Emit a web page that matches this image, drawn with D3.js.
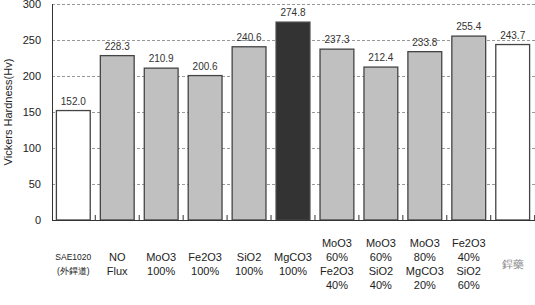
<!DOCTYPE html>
<html>
<head>
<meta charset="utf-8">
<script src="https://cdn.jsdelivr.net/npm/d3@7"></script>
<style>
  body { margin: 0; background: #fff; }
  svg { font-family: "Liberation Sans", Arial, sans-serif; }
</style>
</head>
<body>
<div id="chart"></div>
<script>
const categories = ["SAE1020", "NO Flux", "MoO3 100%", "Fe2O3 100%", "SiO2 100%", "MgCO3 100%",
  "MoO3 60% Fe2O3 40%", "MoO3 60% SiO2 40%", "MoO3 80% MgCO3 20%", "Fe2O3 40% SiO2 60%", "銲藥"];
const labelLines = [["SAE1020", "(外銲道)"], ["NO", "Flux"], ["MoO3", "100%"], ["Fe2O3", "100%"],
  ["SiO2", "100%"], ["MgCO3", "100%"], ["MoO3", "60%", "Fe2O3", "40%"], ["MoO3", "60%", "SiO2", "40%"],
  ["MoO3", "80%", "MgCO3", "20%"], ["Fe2O3", "40%", "SiO2", "60%"], ["銲藥"]];
const hardness = [152.0, 228.3, 210.9, 200.6, 240.6, 274.8, 237.3, 212.4, 233.8, 255.4, 243.7];
const barFill = ["#ffffff", "#c0c0c0", "#c0c0c0", "#c0c0c0", "#c0c0c0", "#333333",
  "#c0c0c0", "#c0c0c0", "#c0c0c0", "#c0c0c0", "#ffffff"];
const yTicks = [0, 50, 100, 150, 200, 250, 300];

const width = 535, height = 305;
const margin = {top: 4, right: 1, bottom: 85, left: 52};

const svg = d3.select("#chart").append("svg")
  .attr("width", width)
  .attr("height", height);

const x = d3.scaleBand()
  .domain(categories)
  .range([margin.left, width - margin.right])
  .paddingInner(0.23)
  .paddingOuter(0.1);

const y = d3.scaleLinear()
  .domain([0, 300])
  .range([height - margin.bottom, margin.top]);

// gridlines
svg.append("g")
  .selectAll("line")
  .data(yTicks.slice(1))
  .enter().append("line")
  .attr("x1", margin.left)
  .attr("x2", width)
  .attr("y1", d => Math.round(y(d)) + 0.5)
  .attr("y2", d => Math.round(y(d)) + 0.5)
  .attr("stroke", "#999")
  .attr("stroke-dasharray", "3,2");

// y tick labels
svg.append("g")
  .attr("text-anchor", "end")
  .selectAll("text")
  .data(yTicks)
  .enter().append("text")
  .attr("x", 41)
  .attr("y", d => y(d))
  .attr("dy", "0.35em")
  .attr("font-size", 11)
  .attr("fill", "#222")
  .text(d => d);

svg.append("text")
  .attr("transform", `translate(12,${(y(0) + y(300)) / 2})rotate(-90)`)
  .attr("text-anchor", "middle")
  .attr("font-size", 11)
  .attr("fill", "#222")
  .text("Vickers Hardness(Hv)");

// bars
svg.append("g")
  .selectAll("rect")
  .data(hardness)
  .enter().append("rect")
  .attr("x", (d, i) => x(categories[i]))
  .attr("y", d => y(d))
  .attr("width", x.bandwidth())
  .attr("height", d => y(0) - y(d))
  .attr("fill", (d, i) => barFill[i])
  .attr("stroke", "#444")
  .attr("stroke-width", 1.3);

// value labels
svg.append("g")
  .attr("text-anchor", "middle")
  .selectAll("text")
  .data(hardness)
  .enter().append("text")
  .attr("x", (d, i) => x(categories[i]) + x.bandwidth() / 2)
  .attr("y", d => y(d) - 6)
  .attr("font-size", 10)
  .attr("fill", "#333")
  .text(d => d.toFixed(1));

// axes lines
svg.append("line")
  .attr("x1", margin.left + 0.5).attr("x2", margin.left + 0.5)
  .attr("y1", y(300)).attr("y2", y(0))
  .attr("stroke", "#333");
svg.append("line")
  .attr("x1", margin.left).attr("x2", width)
  .attr("y1", y(0) + 0.5).attr("y2", y(0) + 0.5)
  .attr("stroke", "#333");

// category boundary ticks
const step = x.step();
svg.append("g")
  .selectAll("line")
  .data(d3.range(1, categories.length + 1))
  .enter().append("line")
  .attr("x1", i => x(categories[0]) - x.paddingInner() * step / 2 + i * step)
  .attr("x2", i => x(categories[0]) - x.paddingInner() * step / 2 + i * step)
  .attr("y1", y(0) - 5)
  .attr("y2", y(0))
  .attr("stroke", "#333");

// category labels
const lineH = 13.8;
const lbl = svg.append("g")
  .attr("text-anchor", "middle")
  .selectAll("text")
  .data(labelLines)
  .enter().append("text")
  .attr("x", (d, i) => x(categories[i]) + x.bandwidth() / 2)
  .attr("font-size", (d, i) => i === 0 ? 8.5 : 11)
  .attr("fill", (d, i) => i === 10 ? "#888" : "#222");

lbl.selectAll("tspan")
  .data(d => d.map((t, k) => ({t, k, n: d.length})))
  .enter().append("tspan")
  .attr("x", function() { return d3.select(this.parentNode).attr("x"); })
  .attr("y", d => 264 + (d.k - (d.n - 1) / 2) * lineH)
  .attr("dy", "0.35em")
  .text(d => d.t);
</script>
</body>
</html>
